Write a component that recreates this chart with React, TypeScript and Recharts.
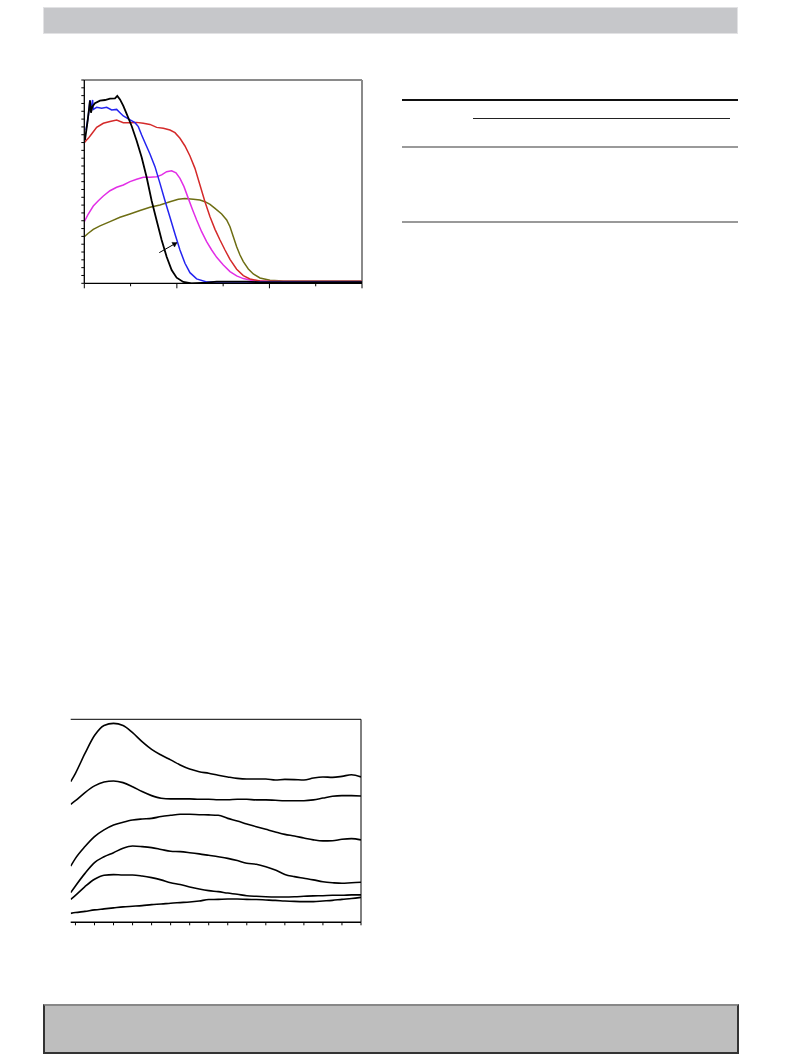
import { Line, LineChart, ReferenceLine, XAxis, YAxis } from 'recharts'

// top chart: five spectra, each series keeps its own x samples
const blackX = [0.14, 0.65, 1.08, 1.22, 1.44, 1.73, 2.3, 3.39, 4.47, 5.55, 6.63, 7.13, 7.71, 8.43, 9.15, 10.23, 11.31, 12.39, 13.47, 14.55, 15.63, 16.71, 17.79, 18.87, 19.95, 21.39, 23.19, 26.43, 28.6, 35.1, 37.96, 60]
const blackY = [91.6, 102.3, 112.9, 116.8, 109.1, 112.9, 115.1, 116.8, 117.2, 118.1, 118.3, 119.8, 117.6, 113.4, 108.3, 100.6, 91.2, 80.6, 67.8, 52.8, 40.1, 27.7, 17.0, 8.5, 3.6, 0.9, 0, 0.4, 1.1, 1.1, 0.6, 0.8]

const blueX = [0.36, 0.86, 1.22, 1.37, 1.8, 1.94, 2.67, 3.75, 4.83, 5.91, 6.99, 7.71, 8.43, 9.51, 10.95, 11.67, 12.39, 13.33, 14.19, 15.27, 16.35, 17.43, 18.51, 19.59, 20.67, 21.75, 22.83, 24.27, 26.43, 30.76, 60]
const blueY = [98.0, 106.6, 117.2, 110.8, 117.2, 111.2, 112.5, 111.9, 112.5, 110.8, 111.2, 109.1, 107.0, 105.1, 102.7, 100.2, 94.8, 88.4, 82.7, 74.6, 63.9, 52.8, 42.2, 31.5, 21.3, 12.8, 6.8, 2.8, 0.9, 0.9, 0.9]

const redX = [0, 0.5, 0.86, 1.58, 2.67, 4.11, 5.55, 6.99, 8.43, 9.87, 11.31, 12.75, 14.19, 15.63, 17.07, 18.51, 19.59, 20.67, 21.75, 22.83, 23.91, 24.99, 26.07, 27.16, 28.24, 29.32, 30.4, 31.48, 32.92, 34.36, 35.8, 37.96, 41.56, 60]
const redY = [89.9, 91.6, 92.7, 95.5, 99.7, 102.3, 103.4, 104.4, 102.7, 102.7, 102.9, 102.3, 101.6, 99.7, 99.1, 98.0, 96.3, 92.7, 87.8, 81.4, 73.5, 62.9, 52.2, 42.6, 34.5, 27.7, 21.3, 15.3, 9.0, 4.9, 2.8, 1.5, 1.1, 1.1]

const magentaX = [0, 0.86, 1.94, 3.03, 4.11, 5.55, 6.99, 8.43, 9.87, 11.31, 12.75, 14.19, 15.63, 16.71, 17.79, 18.87, 19.81, 20.67, 21.54, 22.47, 23.41, 24.27, 25.35, 26.43, 27.52, 28.6, 30.04, 31.48, 32.92, 34.36, 36.52, 39.4, 60]
const magentaY = [39.4, 44.3, 49.4, 52.8, 55.8, 59.2, 61.4, 62.9, 65.0, 66.5, 67.8, 67.8, 68.2, 69.3, 71.4, 72.0, 70.7, 67.1, 61.8, 54.3, 46.9, 40.5, 33.0, 26.6, 21.3, 16.6, 11.7, 7.5, 4.7, 3.0, 1.7, 1.3, 1.1]

const oliveX = [0, 0.86, 1.94, 3.39, 5.55, 7.71, 9.87, 12.03, 14.19, 16.35, 18.51, 20.31, 21.75, 23.55, 24.99, 26.07, 27.16, 28.24, 29.68, 30.76, 31.48, 32.2, 32.92, 33.64, 34.36, 35.44, 36.52, 37.96, 40.12, 43.0, 60]
const oliveY = [29.8, 32.0, 34.5, 36.7, 39.4, 42.2, 44.3, 46.5, 48.6, 50.1, 52.2, 53.7, 54.3, 53.7, 53.3, 52.2, 50.5, 47.9, 44.3, 40.5, 36.2, 29.8, 23.4, 18.1, 13.9, 9.2, 6.0, 3.4, 1.9, 1.5, 1.5]

const arrowX = [16.2, 20.0]
const arrowY = [19.6, 26.0]

const topXTicks = [0, 10, 20, 30, 40, 50, 60]
const topXMajor = [0, 20, 40, 60]
const topYTicks = [0, 5, 10, 15, 20, 25, 30, 35, 40, 45, 50, 55, 60, 65, 70, 75, 80, 85, 90, 95, 100, 105, 110, 115, 120, 125, 130]

// bottom chart: six curves on a shared x grid
const lowX = [-0.25, 0, 0.5, 1, 1.5, 2, 2.5, 3, 3.5, 4, 4.5, 5, 5.5, 6, 6.5, 7, 7.5, 8, 8.5, 9, 9.5, 10, 10.5, 11, 11.5, 12, 12.5, 13, 13.5, 14, 14.5, 15]
const curveA = [69.3, 73.4, 83.2, 92.0, 97.0, 98.0, 97.0, 93.4, 89.0, 85.2, 82.4, 80.0, 77.5, 75.5, 74.2, 73.4, 72.4, 71.6, 70.9, 70.6, 70.6, 70.6, 70.1, 70.4, 70.3, 70.1, 71.1, 71.6, 71.4, 71.9, 72.7, 71.6]
const curveB = [58.1, 59.9, 63.9, 67.2, 69.1, 69.6, 68.8, 66.8, 64.4, 62.4, 61.1, 60.8, 60.8, 60.8, 60.6, 60.6, 60.4, 60.4, 60.6, 60.6, 60.3, 60.3, 60.1, 59.9, 59.9, 59.9, 60.3, 61.2, 62.1, 62.4, 62.4, 62.2]
const curveC = [27.7, 31.5, 37.3, 42.2, 45.5, 47.9, 49.3, 50.4, 50.9, 51.2, 52.1, 52.7, 53.2, 53.2, 53.0, 52.9, 52.7, 51.2, 49.9, 48.4, 47.1, 45.8, 44.5, 43.3, 42.5, 41.5, 40.6, 40.1, 40.2, 40.9, 41.2, 40.6]
const curveD = [14.6, 17.9, 24.1, 29.4, 32.3, 34.3, 36.5, 37.6, 37.3, 36.8, 35.9, 35.0, 34.8, 34.3, 33.7, 33.0, 32.3, 31.5, 30.4, 29.1, 28.6, 27.4, 25.8, 23.6, 22.5, 21.7, 20.9, 20.0, 19.5, 19.2, 19.5, 19.7]
const curveE = [11.3, 13.3, 17.6, 21.2, 23.2, 23.5, 23.3, 23.3, 22.8, 22.0, 20.9, 19.5, 18.6, 17.4, 16.4, 15.6, 15.1, 14.4, 13.8, 13.1, 12.8, 12.6, 12.5, 12.5, 12.6, 12.8, 13.0, 13.1, 13.3, 13.3, 13.5, 13.5]
const curveF = [4.4, 4.8, 5.4, 6.1, 6.6, 7.1, 7.6, 7.9, 8.2, 8.7, 9.0, 9.4, 9.7, 10.0, 10.5, 11.2, 11.3, 11.5, 11.5, 11.3, 11.2, 11.0, 10.8, 10.5, 10.3, 10.2, 10.2, 10.5, 10.8, 11.3, 11.7, 12.3]
const lowXTicks = [0, 1, 2, 3, 4, 5, 6, 7, 8, 9, 10, 11, 12, 13, 14, 15]

const pairs = (xs: number[], ys: number[]) => xs.map((x, i) => ({ x, y: ys[i] }))

const topSeries = [
  { key: 'olive', color: '#6e6e14', data: pairs(oliveX, oliveY) },
  { key: 'magenta', color: '#e22ee6', data: pairs(magentaX, magentaY) },
  { key: 'red', color: '#d42a2a', data: pairs(redX, redY) },
  { key: 'blue', color: '#2424f0', data: pairs(blueX, blueY) },
  { key: 'black', color: '#000000', data: pairs(blackX, blackY) },
]

const lowRows = lowX.map((x, i) => ({
  x,
  a: curveA[i],
  b: curveB[i],
  c: curveC[i],
  d: curveD[i],
  e: curveE[i],
  f: curveF[i],
}))

const downTick = (major: number[]) => (p: any) => {
  const len = major.includes(p.payload.value) ? 5 : 3
  return <line x1={p.x} x2={p.x} y1={p.y} y2={p.y + len} stroke="#000" strokeWidth={1} />
}

const innerTopTick = (p: any) => {
  const v = p.payload.value
  if (v === 0 || v === 60) return <g />
  return <line x1={p.x} x2={p.x} y1={p.y} y2={p.y + 3} stroke="#555" strokeWidth={1} />
}

const leftTick = (p: any) => (
  <line x1={p.x - 3} x2={p.x} y1={p.y} y2={p.y} stroke="#000" strokeWidth={1} />
)

const arrowHead = (p: any) => {
  if (p.index !== 1) return <g key={p.index} />
  const pts = p.points || []
  const prev = pts[0] || { x: p.cx - 17, y: p.cy + 10 }
  const ang = Math.atan2(p.cy - prev.y, p.cx - prev.x)
  const s = 5
  const a1 = ang + Math.PI * 0.82
  const a2 = ang - Math.PI * 0.82
  const d = `M${p.cx},${p.cy} L${p.cx + s * Math.cos(a1)},${p.cy + s * Math.sin(a1)} L${p.cx + s * Math.cos(a2)},${p.cy + s * Math.sin(a2)} Z`
  return <path key={p.index} d={d} fill="#000" stroke="#000" strokeWidth={0.5} />
}

export default function App() {
  return (
    <div style={{ position: 'absolute', left: 0, top: 0, width: 793, height: 1057, background: '#fff' }}>
      <div
        style={{
          position: 'absolute',
          left: 43,
          top: 7,
          width: 693,
          height: 25,
          background: '#c6c7ca',
          border: '1px solid #e2e2e4',
        }}
      />

      <div style={{ position: 'absolute', left: 60, top: 70 }}>
        <LineChart width={320} height={240} margin={{ top: 10, right: 18, left: 14.3, bottom: 16.7 }}>
          <XAxis
            type="number"
            dataKey="x"
            domain={[0, 60]}
            ticks={topXTicks}
            interval={0}
            allowDataOverflow
            height={10}
            stroke="#000"
            strokeWidth={1.3}
            tickLine={false}
            tickSize={0}
            tickMargin={0}
            tick={downTick(topXMajor)}
          />
          <XAxis
            xAxisId="top"
            orientation="top"
            type="number"
            dataKey="x"
            domain={[0, 60]}
            ticks={topXTicks}
            interval={0}
            allowDataOverflow
            height={0}
            axisLine={false}
            tickLine={false}
            tickSize={0}
            tickMargin={0}
            tick={innerTopTick}
          />
          <YAxis
            type="number"
            domain={[0, 130]}
            ticks={topYTicks}
            interval={0}
            allowDataOverflow
            width={10}
            stroke="#000"
            strokeWidth={1.3}
            tickLine={false}
            tickSize={0}
            tickMargin={0}
            tick={leftTick}
          />
          <ReferenceLine y={130} stroke="#8a8a8a" strokeWidth={2} />
          <ReferenceLine x={60} stroke="#8a8a8a" strokeWidth={2} />
          {topSeries.map((s) => (
            <Line
              key={s.key}
              data={s.data}
              dataKey="y"
              type="linear"
              stroke={s.color}
              strokeWidth={s.key === 'black' ? 1.8 : 1.5}
              dot={false}
              isAnimationActive={false}
            />
          ))}
          <Line
            data={pairs(arrowX, arrowY)}
            dataKey="y"
            type="linear"
            stroke="#000"
            strokeWidth={1}
            dot={arrowHead}
            isAnimationActive={false}
          />
        </LineChart>
      </div>

      <div style={{ position: 'absolute', left: 402, top: 99, width: 336, height: 1.5, background: '#111' }} />
      <div style={{ position: 'absolute', left: 473, top: 117.5, width: 257, height: 1.2, background: '#222' }} />
      <div style={{ position: 'absolute', left: 402, top: 146, width: 336, height: 2, background: '#9a9a9a' }} />
      <div style={{ position: 'absolute', left: 402, top: 220.5, width: 336, height: 2.5, background: '#999' }} />

      <div style={{ position: 'absolute', left: 50, top: 700 }}>
        <LineChart width={330} height={250} data={lowRows} margin={{ top: 19.3, right: 19, left: 20.7, bottom: 17.7 }}>
          <XAxis
            type="number"
            dataKey="x"
            domain={[-0.25, 15]}
            ticks={lowXTicks}
            interval={0}
            allowDataOverflow
            height={10}
            stroke="#000"
            strokeWidth={1.5}
            tickLine={false}
            tickSize={0}
            tickMargin={0}
            tick={downTick([])}
          />
          <YAxis
            type="number"
            domain={[0, 100]}
            allowDataOverflow
            width={0}
            stroke="#000"
            strokeWidth={1.5}
            tick={false}
            tickLine={false}
          />
          <ReferenceLine y={100} stroke="#000" strokeWidth={1} />
          <ReferenceLine x={15} stroke="#000" strokeWidth={1} />
          {['a', 'b', 'c', 'd', 'e', 'f'].map((k) => (
            <Line
              key={k}
              dataKey={k}
              type="monotone"
              stroke="#000"
              strokeWidth={1.6}
              dot={false}
              isAnimationActive={false}
            />
          ))}
        </LineChart>
      </div>

      <div
        style={{
          position: 'absolute',
          left: 43,
          top: 1004,
          width: 692,
          height: 46,
          background: '#bebebe',
          borderLeft: '2px solid #333',
          borderRight: '2px solid #333',
          borderBottom: '2px solid #333',
          borderTop: '2px solid #888',
        }}
      />
    </div>
  )
}
